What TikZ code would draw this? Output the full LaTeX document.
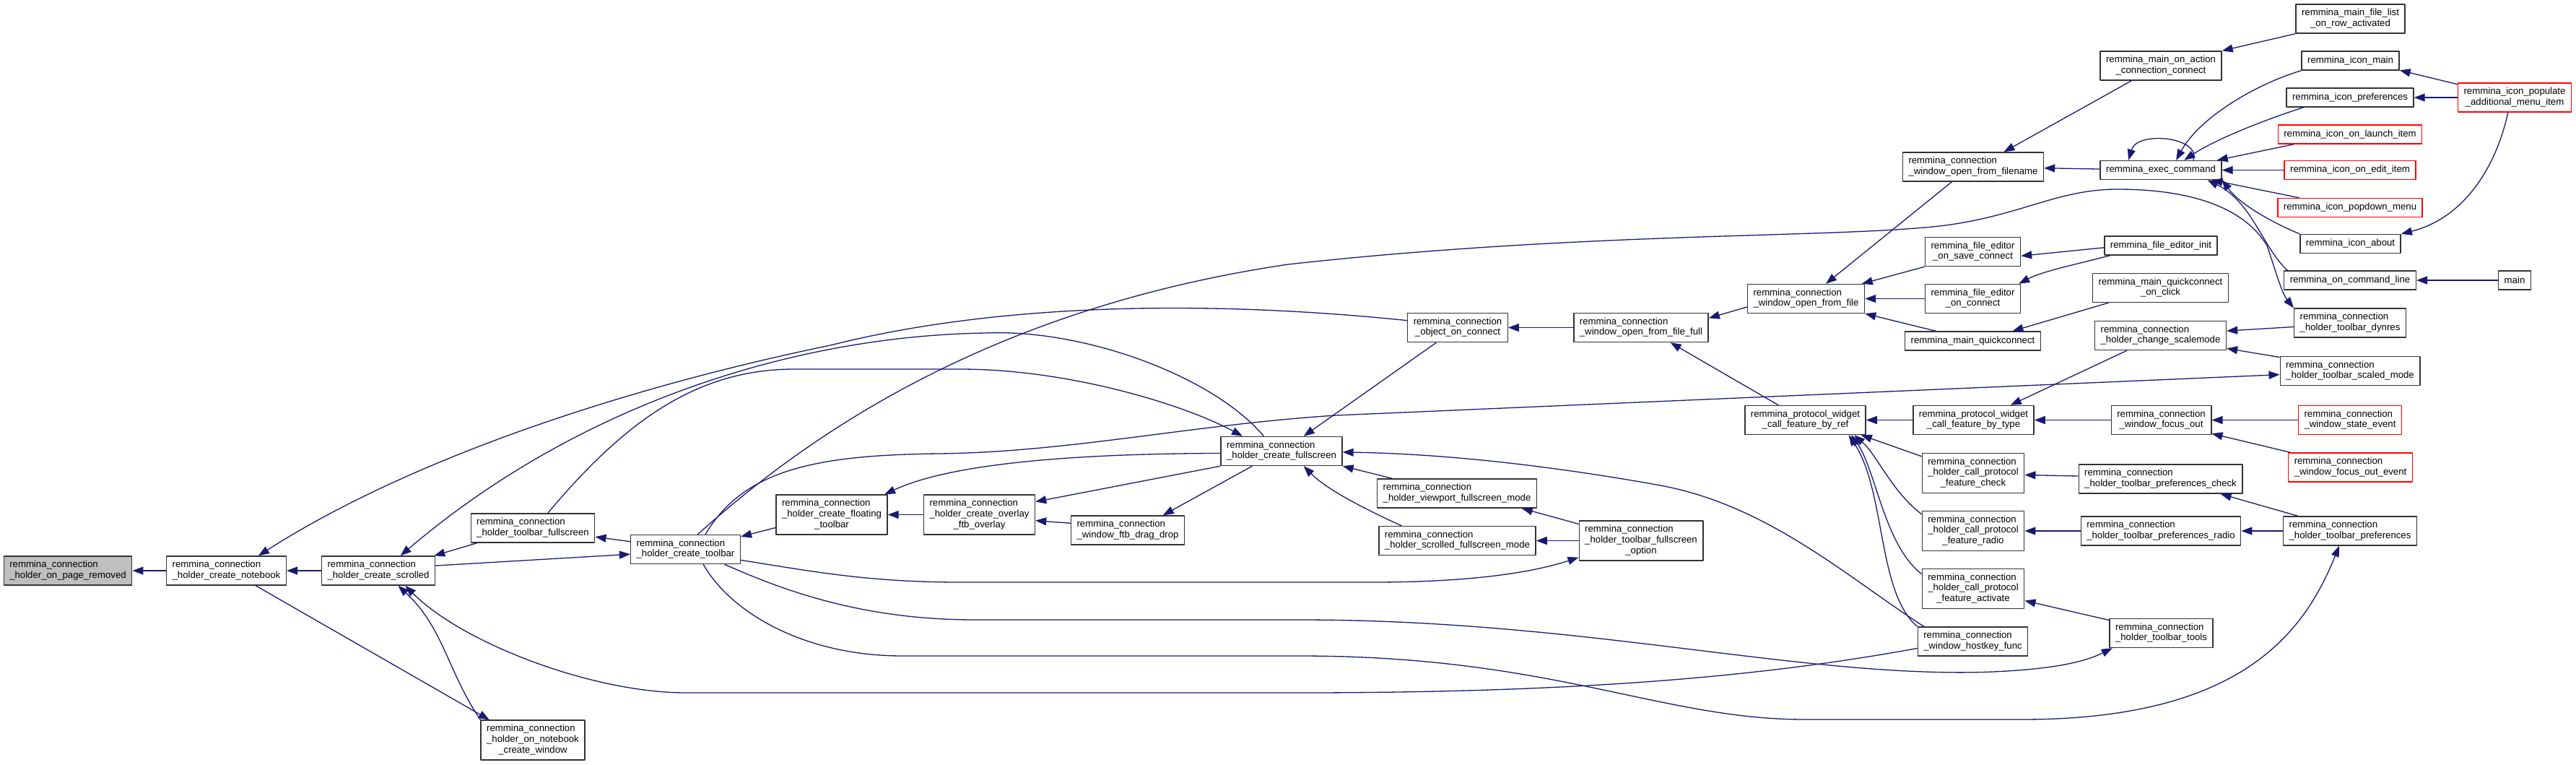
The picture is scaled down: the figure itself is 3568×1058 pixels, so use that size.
\documentclass[tikz,border=0pt]{standalone}
\usepackage{fontspec}
\setmainfont{Liberation Sans}
\usetikzlibrary{arrows.meta}

\definecolor{callblue}{HTML}{191970}
\definecolor{boxred}{HTML}{FF0000}
\definecolor{boxgrey}{HTML}{BFBFBF}

% label: first lines left, last line centred
\newcommand{\fnlines}[2]{\begin{tabular}{@{}l@{}}#1\\\multicolumn{1}{@{}c@{}}{#2}\end{tabular}}

\begin{document}
\begin{tikzpicture}[x=1pt,y=-1pt,line join=round,
  fn/.style={draw=black!80,line width=1.4pt,fill=white,
    font=\fontsize{13.2}{14.7}\selectfont,inner xsep=8pt,inner ysep=5.3pt,minimum height=26pt},
  fnred/.style={fn,draw=boxred},
  fnfocus/.style={fn,fill=boxgrey},
  call/.style={draw=callblue,line width=1.3pt,-{Triangle[length=15pt,width=11pt]}}]

\useasboundingbox (0,0) rectangle (3568,1058);

% left part of the graph
\node[fnfocus] (pageremoved) at (94,790) {\fnlines{remmina\_connection}{\_holder\_on\_page\_removed}};
\node[fn] (notebook) at (313.5,790) {\fnlines{remmina\_connection}{\_holder\_create\_notebook}};
\node[fn] (scrolled) at (524,790) {\fnlines{remmina\_connection}{\_holder\_create\_scrolled}};
\node[fn] (tbfullscreen) at (738,731) {\fnlines{remmina\_connection}{\_holder\_toolbar\_fullscreen}};
\node[fn] (notebookwin) at (738,1024.5) {\fnlines{remmina\_connection\\\_holder\_on\_notebook}{\_create\_window}};
\node[fn] (toolbar) at (949.5,760.5) {\fnlines{remmina\_connection}{\_holder\_create\_toolbar}};
\node[fn] (floating) at (1152,712.5) {\fnlines{remmina\_connection\\\_holder\_create\_floating}{\_toolbar}};
\node[fn] (overlay) at (1356.5,712.5) {\fnlines{remmina\_connection\\\_holder\_create\_overlay}{\_ftb\_overlay}};
\node[fn] (dragdrop) at (1562,734) {\fnlines{remmina\_connection}{\_window\_ftb\_drag\_drop}};
\node[fn] (fullscreen) at (1775,624.5) {\fnlines{remmina\_connection}{\_holder\_create\_fullscreen}};

% middle part
\node[fn] (objconnect) at (2019,453.5) {\fnlines{remmina\_connection}{\_object\_on\_connect}};
\node[fn] (viewport) at (2018,683) {\fnlines{remmina\_connection}{\_holder\_viewport\_fullscreen\_mode}};
\node[fn] (scrolledfs) at (2018.5,748.5) {\fnlines{remmina\_connection}{\_holder\_scrolled\_fullscreen\_mode}};
\node[fn] (openfilefull) at (2273,453.5) {\fnlines{remmina\_connection}{\_window\_open\_from\_file\_full}};
\node[fn] (tbfsoption) at (2273,748.5) {\fnlines{remmina\_connection\\\_holder\_toolbar\_fullscreen}{\_option}};
\node[fn] (openfile) at (2501.5,413.5) {\fnlines{remmina\_connection}{\_window\_open\_from\_file}};
\node[fn] (byref) at (2500.5,581.5) {\fnlines{remmina\_protocol\_widget}{\_call\_feature\_by\_ref}};

% column of feature callers
\node[fn] (openfilename) at (2733,231) {\fnlines{remmina\_connection}{\_window\_open\_from\_filename}};
\node[fn] (saveconnect) at (2732.5,348.5) {\fnlines{remmina\_file\_editor}{\_on\_save\_connect}};
\node[fn] (editorconnect) at (2732.5,413.5) {\fnlines{remmina\_file\_editor}{\_on\_connect}};
\node[fn] (quickconnect) at (2732.5,472) {remmina\_main\_quickconnect};
\node[fn] (bytype) at (2733.5,581.5) {\fnlines{remmina\_protocol\_widget}{\_call\_feature\_by\_type}};
\node[fn] (featcheck) at (2733,655) {\fnlines{remmina\_connection\\\_holder\_call\_protocol}{\_feature\_check}};
\node[fn] (featradio) at (2733,735) {\fnlines{remmina\_connection\\\_holder\_call\_protocol}{\_feature\_radio}};
\node[fn] (featactivate) at (2733,815) {\fnlines{remmina\_connection\\\_holder\_call\_protocol}{\_feature\_activate}};
\node[fn] (hostkey) at (2732.5,888) {\fnlines{remmina\_connection}{\_window\_hostkey\_func}};

\node[fn] (onaction) at (2993,91) {\fnlines{remmina\_main\_on\_action}{\_connection\_connect}};
\node[fn] (exec) at (2993,235.5) {remmina\_exec\_command};
\node[fn] (editorinit) at (2993,340) {remmina\_file\_editor\_init};
\node[fn] (quickclick) at (2992.5,398.5) {\fnlines{remmina\_main\_quickconnect}{\_on\_click}};
\node[fn] (scalemode) at (2992.5,464.5) {\fnlines{remmina\_connection}{\_holder\_change\_scalemode}};
\node[fn] (focusout) at (2993.5,581.5) {\fnlines{remmina\_connection}{\_window\_focus\_out}};
\node[fn] (prefcheck) at (2992.5,663) {\fnlines{remmina\_connection}{\_holder\_toolbar\_preferences\_check}};
\node[fn] (prefradio) at (2993,735) {\fnlines{remmina\_connection}{\_holder\_toolbar\_preferences\_radio}};
\node[fn] (tbtools) at (2993.5,876.5) {\fnlines{remmina\_connection}{\_holder\_toolbar\_tools}};

% right part
\node[fn] (filelist) at (3255.5,26) {\fnlines{remmina\_main\_file\_list}{\_on\_row\_activated}};
\node[fn] (iconmain) at (3255.5,84) {remmina\_icon\_main};
\node[fn] (iconprefs) at (3255,135) {remmina\_icon\_preferences};
\node[fnred] (launchitem) at (3255,186) {remmina\_icon\_on\_launch\_item};
\node[fnred] (edititem) at (3255,235.5) {remmina\_icon\_on\_edit\_item};
\node[fnred] (popdown) at (3255,287.5) {remmina\_icon\_popdown\_menu};
\node[fn] (iconabout) at (3255.5,337.5) {remmina\_icon\_about};
\node[fn] (cmdline) at (3255,388) {remmina\_on\_command\_line};
\node[fn] (dynres) at (3255,447) {\fnlines{remmina\_connection}{\_holder\_toolbar\_dynres}};
\node[fn] (scaledmode) at (3255,513.5) {\fnlines{remmina\_connection}{\_holder\_toolbar\_scaled\_mode}};
\node[fnred] (stateevent) at (3255,581.5) {\fnlines{remmina\_connection}{\_window\_state\_event}};
\node[fnred] (focusoutevent) at (3255.5,647) {\fnlines{remmina\_connection}{\_window\_focus\_out\_event}};
\node[fn] (toolbarprefs) at (3255,735) {\fnlines{remmina\_connection}{\_holder\_toolbar\_preferences}};
\node[fnred] (populate) at (3483,135) {\fnlines{remmina\_icon\_populate}{\_additional\_menu\_item}};
\node[fn] (main) at (3483,388) {main};

% short calls
\draw[call] (notebook) -- (pageremoved);
\draw[call] (scrolled) -- (notebook);
\draw[call] (overlay) -- (floating);
\draw[call] (dragdrop.173) -- (overlay.-6);
\draw[call] (floating.193) -- (toolbar.13);
\draw[call] (toolbar.172) -- (tbfullscreen.-8);
\draw[call] (tbfullscreen.195) -- (scrolled.15);
\draw[call] (scrolled.5) -- (toolbar.185);
\draw[call] (notebook.-27) -- (notebookwin.155);
\draw[call] (fullscreen.south west) -- (overlay.13);
\draw[call] (fullscreen.207) -- (dragdrop.23);
\draw[call] (objconnect.215) -- (fullscreen.34);
\draw[call] (viewport.167) -- (fullscreen.south east);
\draw[call] (tbfsoption.165) -- (viewport.-13);
\draw[call] (tbfsoption) -- (scrolledfs);
\draw[call] (openfilefull) -- (objconnect);
\draw[call] (openfile.188) -- (openfilefull.8);
\draw[call] (byref.151) -- (openfilefull.-27);
\draw[call] (openfilename.215) -- (openfile.37);
\draw[call] (onaction.207) -- (openfilename.26);
\draw[call] (filelist.south west) -- (onaction.north east);
\draw[call] (exec) -- (openfilename);
\draw[call] (saveconnect.south west) -- (openfile.15);
\draw[call] (editorconnect) -- (openfile);
\draw[call] (quickconnect.165) -- (openfile.south east);
\draw[call] (editorinit.182) -- (saveconnect.-5);
\draw[call] (quickclick.196) -- (quickconnect.14);
\draw[call] (launchitem.190) -- (exec.10);
\draw[call] (edititem) -- (exec);
\draw[call] (popdown.169) -- (exec.-11);
\draw[call] (populate.167) -- (iconmain.-11);
\draw[call] (populate) -- (iconprefs);
\draw[call] (main) -- (cmdline);
\draw[call] (dynres.184) -- (scalemode.4);
\draw[call] (scaledmode.169) -- (scalemode.-11);
\draw[call] (scalemode.204) -- (bytype.22);
\draw[call] (bytype) -- (byref);
\draw[call] (focusout) -- (bytype);
\draw[call] (stateevent) -- (focusout);
\draw[call] (focusoutevent.166) -- (focusout.-15);
\draw[call] (featcheck.162) -- (byref.-15);
\draw[call] (prefcheck.178) -- (featcheck.-2);
\draw[call] (prefradio) -- (featradio);
\draw[call] (toolbarprefs.164) -- (prefcheck.-14);
\draw[call] (toolbarprefs) -- (prefradio);
\draw[call] (tbtools.166) -- (featactivate.-13);

% curved calls, left part
\draw[call] (objconnect.172) .. controls (1700,418) and (1400,415) .. (1150,478)
  .. controls (850,540) and (560,640) .. (notebook.25);
\draw[call] (fullscreen.140) .. controls (1680,520) and (1500,455) .. (1365,461)
  .. controls (1100,465) and (800,560) .. (scrolled.34);
\draw[call] (tbfullscreen.45) .. controls (860,590) and (960,511) .. (1100,511) -- (1330,511)
  .. controls (1480,511) and (1640,560) .. (fullscreen.159);
\draw[call] (fullscreen.182) .. controls (1500,628) and (1320,640) .. (floating.21);
\draw[call] (notebookwin.north west) .. controls (620,930) and (615,870) .. (scrolled.-37);
\draw[call] (scrolledfs.165) .. controls (1880,700) and (1835,675) .. (fullscreen.-34);
\draw[call] (hostkey.163) .. controls (2560,800) and (2450,700) .. (2300,672)
  .. controls (2150,645) and (2000,628) .. (fullscreen.-1);
\draw[call] (hostkey.187) .. controls (2450,935) and (2200,959) .. (1800,959) -- (950,959)
  .. controls (820,959) and (640,890) .. (scrolled.-29);

% long calls out of the toolbar
\draw[call] (toolbar.-11) .. controls (1120,790) and (1200,806) .. (1330,806) -- (1900,806)
  .. controls (2050,806) and (2130,790) .. (tbfsoption.195);
\draw[call] (toolbar.-21) .. controls (1080,815) and (1190,858) .. (1350,858) -- (1800,858)
  .. controls (2200,858) and (2500,940) .. (2760,930)
  .. controls (2850,926) and (2890,915) .. (tbtools.197);
\draw[call] (toolbar.-40) .. controls (1010,845) and (1110,908) .. (1250,908) -- (1800,908)
  .. controls (2150,908) and (2300,996) .. (2500,996) -- (2800,996)
  .. controls (3100,996) and (3190,880) .. (toolbarprefs.234);
\draw[call] (toolbar.37) .. controls (1030,650) and (1130,630) .. (1300,628)
  .. controls (1480,626) and (1650,588) .. (1850,575) -- (scaledmode.183);
\draw[call] (toolbar.51) .. controls (1100,620) and (1350,430) .. (1784,366)
  .. controls (2200,320) and (2550,330) .. (2694,312)
  .. controls (2800,298) and (2850,262) .. (2933,262)
  .. controls (3040,262) and (3110,290) .. (3140,340)
  .. controls (3152,375) and (3160,405) .. (dynres.north west);

% curved calls, right part
\draw[call] (exec.17) .. controls (3050,190) and (2960,180) .. (exec.163);
\draw[call] (iconmain.south west) .. controls (3120,118) and (3045,165) .. (exec.33);
\draw[call] (iconprefs.192) .. controls (3130,168) and (3065,195) .. (exec.23);
\draw[call] (iconabout.north west) .. controls (3140,305) and (3100,280) .. (exec.-9);
\draw[call] (cmdline.171) .. controls (3135,345) and (3120,280) .. (exec.-12);
\draw[call] (populate.246) .. controls (3460,220) and (3420,300) .. (iconabout.north east);
\draw[call] (editorinit.191) .. controls (2880,365) and (2830,375) .. (editorconnect.18);
\draw[call] (featradio.162) .. controls (2620,680) and (2600,630) .. (byref.-17);
\draw[call] (featactivate.164) .. controls (2610,755) and (2598,650) .. (byref.-18);
\draw[call] (hostkey.north west) .. controls (2600,820) and (2612,680) .. (byref.-19);

\end{tikzpicture}
\end{document}
